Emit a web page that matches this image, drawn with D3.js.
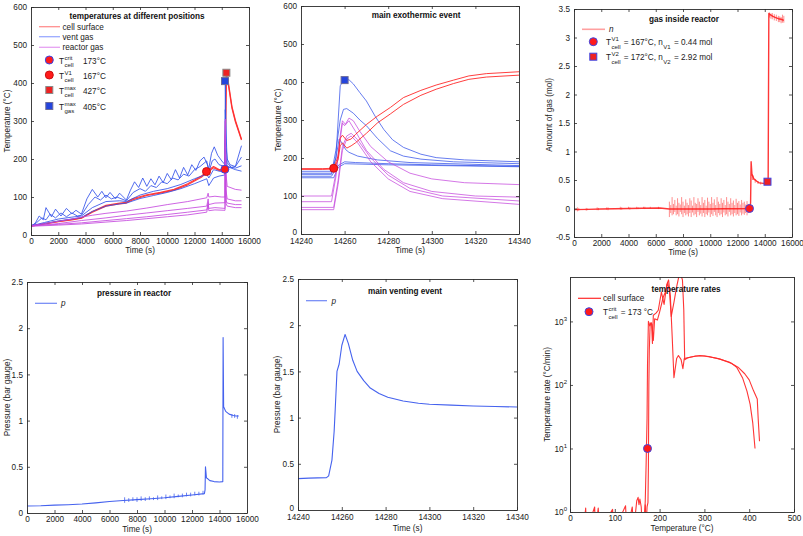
<!DOCTYPE html>
<html><head><meta charset="utf-8">
<script src="https://cdn.jsdelivr.net/npm/d3@7"></script>
<style>
body{margin:0;background:#fff}
svg{font-family:"Liberation Sans",Arial,Helvetica,sans-serif}
svg text{white-space:pre}
</style>
</head><body>
<svg id="c" width="803" height="536"></svg>
<script>
// ---------------- DATA ----------------
const timeTicks = [0,2000,4000,6000,8000,10000,12000,14000,16000];
const zoomTicks = [14240,14260,14280,14300,14320,14340];
const tempTicks = [0,100,200,300,400,500,600];
const gasTicks = [-0.5,0,0.5,1,1.5,2,2.5,3,3.5];
const presTicks = [0,0.5,1,1.5,2,2.5];
const rateXTicks = [0,100,200,300,400,500];
const rateYTicks = [1,10,100,1000];

// Panel 1: temperatures at different positions (time s, temperature °C)
const cellSurface1 = [[0,24],[1000,30],[2000,36],[3000,41],[3700,45],[4500,62],[5500,78],[6500,84],[7000,86],[7500,96],[8500,106],[9500,112],[10500,120],[11500,135],[12000,145],[12500,155],[12900,167],[13400,180],[13800,172],[14240,172],[14260,250],[14340,427],[14500,398],[14750,338],[15000,302],[15450,252]];
const cellSurface2 = [[0,23],[1000,29],[2000,35],[3000,40],[3700,44],[4500,60],[5500,76],[6500,82],[7000,84],[7500,93],[8500,104],[9500,110],[10500,118],[11500,132],[12000,142],[12500,152],[12900,164],[13400,177],[13800,170],[14240,170],[14260,240],[14340,418],[14500,392],[14750,333],[15000,298],[15450,250]];
const ventGas1 = [[0,24],[300,30],[600,50],[900,40],[1100,72],[1500,48],[1800,68],[2200,50],[2600,70],[3000,56],[3300,65],[3700,55],[4100,95],[4500,120],[4900,100],[5200,115],[5500,98],[5800,112],[6200,95],[6500,110],[7000,92],[7300,118],[7600,140],[7900,125],[8200,150],[8500,128],[8800,148],[9100,132],[9400,155],[9700,138],[10000,162],[10300,145],[10600,172],[10900,150],[11200,178],[11500,158],[11800,185],[12100,170],[12400,195],[12700,205],[12950,185],[13050,175],[13250,215],[13450,232],[13700,210],[14000,195],[14240,185],[14262,405],[14320,230],[14400,200],[14600,185],[15000,180],[15200,205],[15450,235]];
const ventGas2 = [[0,24],[400,32],[800,45],[1100,40],[1400,55],[1800,45],[2200,58],[2600,48],[3000,58],[3400,50],[3700,52],[4200,80],[4700,100],[5100,92],[5500,105],[5900,95],[6300,100],[7000,90],[7500,112],[8000,122],[8400,115],[8800,130],[9200,125],[9600,140],[10000,135],[10400,150],[10800,145],[11200,160],[11600,155],[12000,172],[12400,180],[12900,195],[13050,165],[13300,195],[13500,200],[13800,185],[14240,180],[14260,330],[14400,190],[14700,178],[15000,180],[15450,205]];
const ventGas3 = [[0,24],[1000,33],[2000,42],[3000,47],[3700,50],[4500,72],[5500,88],[6500,90],[7000,88],[8000,105],[9000,115],[10000,122],[11000,133],[12000,148],[12900,160],[13050,150],[13400,172],[13800,168],[14240,165],[14257,250],[14262,215],[14400,180],[15000,176],[15450,182]];
const ventGas4 = [[0,24],[1000,30],[2000,37],[3000,42],[3700,46],[4500,62],[5500,76],[6500,82],[7000,84],[8000,96],[9000,104],[10000,112],[11000,122],[12000,135],[12900,148],[13050,130],[13400,150],[13800,155],[14240,158],[14260,190],[14400,180],[15000,172],[15450,168]];
const reactorGas1 = [[0,25],[1000,30],[2000,36],[3000,42],[3700,47],[4500,52],[5500,57],[7000,63],[8500,71],[10000,80],[11500,88],[12900,98],[13000,110],[13050,100],[13500,102],[14000,100],[14240,100],[14262,305],[14300,165],[14400,128],[15000,120],[15450,118]];
const reactorGas2 = [[0,24],[2000,30],[3700,38],[5500,45],[7000,52],[8500,58],[10000,64],[11500,70],[12900,76],[13000,95],[13050,80],[13500,84],[14240,85],[14261,300],[14300,120],[14400,95],[15000,90],[15450,90]];
const reactorGas3 = [[0,24],[2000,28],[3700,32],[5500,38],[7000,43],[8500,48],[10000,54],[11500,60],[12900,66],[13000,85],[13050,70],[13500,72],[14240,70],[14262,265],[14320,90],[14400,84],[15000,80],[15450,80]];
const reactorGas4 = [[0,23],[2000,26],[3700,29],[5500,34],[7000,38],[8500,43],[10000,48],[11500,53],[12900,60],[13000,80],[13050,64],[13500,66],[14240,65],[14262,260],[14320,82],[14400,76],[15000,72],[15450,72]];
const p1Markers = [
  {t:14230,v:173,shape:"circle",fill:"#ff1a1a",stroke:"#3c46e6"},
  {t:12880,v:167,shape:"circle",fill:"#ff1a1a",stroke:"#cc1010"},
  {t:14340,v:427,shape:"square",fill:"#ee2222",stroke:"#8a8a8a"},
  {t:14240,v:405,shape:"square",fill:"#2444dd",stroke:"#6a6a9a"}
];
const p1LegendLabels = ["cell surface","vent gas","reactor gas"];
const p1MarkerLabels = [["crit","cell","173°C"],["V1","cell","167°C"],["max","cell","427°C"],["max","gas","405°C"]];

// Panel 2: main exothermic event
const exoCell1 = [[14240,172],[14250,172],[14255,173],[14257,205],[14258,252],[14259,260],[14261,246],[14263,250],[14265,262],[14270,288],[14275,310],[14281,333],[14287,359],[14295,378],[14302,392],[14310,405],[14317,416],[14325,422],[14340,427]];
const exoCell2 = [[14240,170],[14250,170],[14255,171],[14257,195],[14258,232],[14259,240],[14261,226],[14263,232],[14265,240],[14270,265],[14275,292],[14281,316],[14287,341],[14295,365],[14302,381],[14310,396],[14317,407],[14325,413],[14340,418]];
const exoVent1 = [[14240,165],[14254,165],[14256,200],[14258,390],[14259.5,405],[14262,406],[14264,395],[14267,372],[14270,350],[14274,310],[14278,275],[14282,248],[14287,228],[14295,210],[14302,201],[14315,195],[14340,190]];
const exoVent2 = [[14240,160],[14254,160],[14256,220],[14258,300],[14259.5,328],[14261,330],[14264,318],[14267,300],[14270,285],[14275,252],[14281,219],[14287,205],[14295,197],[14310,190],[14340,185]];
const exoVent3 = [[14240,157],[14254,157],[14256,200],[14257.5,250],[14259,238],[14260.5,222],[14262,215],[14266,205],[14275,195],[14290,188],[14340,180]];
const exoVent4 = [[14240,152],[14254,152],[14257,180],[14260,190],[14265,188],[14280,185],[14300,182],[14340,178]];
const exoVent5 = [[14240,148],[14255,148],[14257,175],[14260,185],[14280,182],[14340,177]];
const exoReactor1 = [[14240,100],[14254,100],[14256,160],[14258,250],[14259,292],[14260,285],[14262,305],[14264,298],[14267,270],[14272,230],[14280,190],[14290,160],[14300,145],[14315,135],[14340,130]];
const exoReactor2 = [[14240,85],[14254,85],[14256,150],[14258,260],[14259,298],[14260.5,288],[14262,298],[14265,270],[14270,220],[14278,170],[14287,135],[14300,112],[14320,100],[14340,97]];
const exoReactor3 = [[14240,70],[14255,70],[14257,140],[14259,230],[14261,258],[14263,265],[14266,248],[14272,200],[14280,155],[14290,120],[14305,100],[14340,87]];
const exoReactor4 = [[14240,64],[14255,64],[14257,130],[14259,220],[14261,250],[14263,258],[14266,240],[14272,190],[14280,145],[14290,112],[14305,93],[14340,78]];
const p2Markers = [
  {t:14255,v:173,shape:"circle",fill:"#ff1a1a",stroke:"#cc1010"},
  {t:14260,v:405,shape:"square",fill:"#2444dd",stroke:"#6a6a9a"}
];

// Panel 3: gas inside reactor (time s, mol)
const gasAmount = [[0,-0.02],[1000,-0.015],[2000,-0.01],[3000,-0.005],[4000,0],[5000,0.005],[6300,0.01],[7000,-0.01],[8000,-0.01],[9000,-0.01],[10000,-0.01],[11000,-0.005],[12000,-0.005],[12900,0],[12960,0.1],[13000,0.82],[13060,0.6],[13200,0.52],[13400,0.48],[13600,0.45],[13900,0.44],[14100,0.45],[14200,0.47],[14250,0.5],[14300,3.42],[14400,3.4],[14600,3.37],[14800,3.35],[15000,3.33],[15200,3.32],[15400,3.3]];
const gasNoise = [[250,0.02,-0.05],[350,0.01,-0.04],[900,0.01,-0.04],[1000,0.0,-0.03],[1700,0.02,-0.03],[1800,0.01,-0.03],[2400,0.02,-0.02],[2500,0.02,-0.03],[3400,0.03,-0.02],[3500,0.02,-0.02],[4000,0.03,-0.01],[4100,0.02,-0.02],[4600,0.03,-0.01],[4700,0.02,-0.01],[5100,0.03,0],[5200,0.03,-0.01],[5600,0.03,0],[6200,0.03,-0.01],
  [7000,0.12,-0.15],[7100,0.06,-0.08],[7200,0.2,-0.12],[7300,0.08,-0.1],[7400,0.15,-0.06],[7500,0.05,-0.12],[7600,0.18,-0.1],[7700,0.1,-0.14],[7800,0.07,-0.06],[7900,0.2,-0.1],[8000,0.12,-0.15],[8100,0.05,-0.08],[8200,0.16,-0.12],[8300,0.1,-0.1],[8400,0.06,-0.14],[8500,0.18,-0.08],[8600,0.14,-0.15],[8700,0.05,-0.07],[8800,0.2,-0.12],[8900,0.1,-0.1],[9000,0.08,-0.15],[9100,0.18,-0.06],[9200,0.12,-0.12],[9300,0.06,-0.09],[9400,0.2,-0.14],[9500,0.1,-0.08],[9600,0.15,-0.15],[9700,0.05,-0.1],[9800,0.19,-0.12],[9900,0.12,-0.07],[10000,0.08,-0.15],[10100,0.2,-0.1],[10200,0.1,-0.13],[10300,0.16,-0.06],[10400,0.06,-0.12],[10500,0.2,-0.15],[10600,0.12,-0.08],[10700,0.08,-0.12],[10800,0.18,-0.1],[10900,0.1,-0.15],[11000,0.15,-0.07],[11100,0.06,-0.12],[11200,0.2,-0.1],[11300,0.12,-0.14],[11400,0.08,-0.06],[11500,0.18,-0.12],[11600,0.1,-0.1],[11700,0.14,-0.14],[11800,0.06,-0.08],[11900,0.17,-0.12],[12000,0.1,-0.1],[12100,0.13,-0.13],[12200,0.07,-0.07],[12300,0.15,-0.12],[12400,0.1,-0.09],[12500,0.12,-0.11],[12600,0.07,-0.08],[12700,0.13,-0.12],[12800,0.08,-0.08],
  [13100,0.6,0.5],[13150,0.58,0.5],[13300,0.52,0.45],[13500,0.48,0.43],[13700,0.47,0.42],[14350,3.44,3.35],[14450,3.42,3.33],[14550,3.43,3.32],[14700,3.41,3.3],[14850,3.4,3.29],[15000,3.38,3.27],[15100,3.37,3.27],[15200,3.36,3.25],[15300,3.4,3.26],[15400,3.38,3.26]];
const p3Markers = [
  {t:12880,v:0,shape:"circle",fill:"#ff1a1a",stroke:"#3c46e6"},
  {t:14200,v:0.47,shape:"square",fill:"#ee2222",stroke:"#3c46e6"}
];

// Panel 4: pressure in reactor (time s, bar gauge)
const pressure = [[0,0.075],[1000,0.078],[2000,0.085],[3000,0.09],[4000,0.098],[5000,0.11],[6000,0.125],[7000,0.135],[8000,0.145],[9000,0.155],[10000,0.165],[11000,0.18],[12000,0.195],[12900,0.21],[12950,0.25],[12980,0.5],[13050,0.38],[13150,0.37],[13300,0.35],[13600,0.34],[14000,0.335],[14240,0.34],[14262,1.9],[14300,1.15],[14450,1.1],[14700,1.07],[15000,1.055],[15200,1.05],[15400,1.05]];
const pressureNoise = [[7100,0.17,0.11],[7400,0.16,0.12],[7700,0.17,0.13],[8000,0.17,0.12],[8300,0.18,0.13],[8600,0.17,0.13],[8900,0.18,0.14],[9200,0.17,0.14],[9500,0.19,0.14],[9800,0.18,0.15],[10100,0.2,0.15],[10400,0.19,0.16],[10700,0.21,0.16],[11000,0.2,0.17],[11300,0.21,0.17],[11600,0.22,0.18],[11900,0.22,0.18],[12200,0.23,0.19],[12500,0.23,0.19],[12800,0.24,0.2],[14900,1.07,1.03],[15100,1.07,1.03],[15300,1.06,1.02]];

// Panel 5: main venting event
const ventPressure = [[14240,0.34],[14245,0.345],[14253,0.35],[14254,0.37],[14255.5,0.54],[14256.5,0.85],[14257,1.09],[14257.8,1.5],[14258.8,1.58],[14260,1.78],[14261.5,1.9],[14263,1.8],[14265,1.62],[14267,1.5],[14270,1.4],[14273,1.32],[14277,1.26],[14281,1.22],[14288,1.18],[14295,1.155],[14300,1.145],[14310,1.135],[14320,1.125],[14330,1.12],[14340,1.115]];

// Panel 6: temperature rates (°C, °C/min)
const rateCell1 = [[30,0.5],[35,1.15],[37,0.5],[55,1.2],[57,0.5],[63,1.15],[67,0.5],[95,1.1],[98,0.5],[124,1.25],[127,0.5],[139,1.2],[142,0.5],[149,1.5],[152,1.7],[154,1.3],[156,1.6],[159,1.2],[161,0.6],[165,0.5],[168,1.5],[170,6],[172,30],[173,200],[175,1000],[178,850],[182,950],[184,450],[186,1250],[192,1350],[197,1500],[204,2900],[210,1850],[216,3800],[220,4500],[224,2500],[228,600],[232,130],[238,260],[242,290],[248,250],[252,180],[255,260],[270,275],[290,290],[310,280],[335,255],[360,220],[372,190],[385,130],[395,80],[402,50],[408,25],[413,10]];
const rateCell2 = [[165,0.5],[168,1.3],[170,0.6],[172,1.2],[174,1.4],[175,5],[176,100],[177,350],[179,950],[183,900],[186,500],[189,1100],[195,1050],[200,1400],[208,2400],[213,2900],[218,4000],[222,3000],[226,1200],[232,2000],[238,3500],[243,5100],[247,5500],[251,4500],[254,1500],[255,600],[256,250],[262,265],[280,285],[300,285],[330,260],[355,230],[375,190],[390,150],[400,120],[410,80],[418,60],[420,30],[423,13]];
const p6Markers = [{t:173,v:10,shape:"circle",fill:"#ff1a1a",stroke:"#3c46e6"}];

// ---------------- DRAWING ----------------
const FS = 8.2;
const svg = d3.select('#c');
const defs = svg.append('defs');
let nClip = 0;
const fmt = d => String(d);

function panel(o) {
  const x = d3.scaleLinear().domain(o.xd).range([o.l, o.r]);
  const y = (o.log ? d3.scaleLog() : d3.scaleLinear()).domain(o.yd).range([o.b, o.t]);
  const g = svg.append('g');
  const id = 'clip' + (nClip++);
  defs.append('clipPath').attr('id', id).append('rect')
    .attr('x', o.l).attr('y', o.t).attr('width', o.r - o.l).attr('height', o.b - o.t);
  const plot = g.append('g').attr('clip-path', `url(#${id})`);
  const ax = g.append('g');
  ax.append('g').attr('transform', `translate(0,${o.b})`)
    .call(d3.axisBottom(x).tickValues(o.xt).tickSizeInner(-3).tickSizeOuter(0).tickPadding(o.xpad ?? 3).tickFormat(fmt));
  ax.append('g').attr('transform', `translate(0,${o.t})`)
    .call(d3.axisTop(x).tickValues(o.xt).tickSizeInner(-3).tickSizeOuter(0).tickFormat(''));
  const left = ax.append('g').attr('transform', `translate(${o.l},0)`)
    .call(d3.axisLeft(y).tickValues(o.yt).tickSizeInner(-3).tickSizeOuter(0).tickPadding(4).tickFormat(o.log ? () => '' : fmt));
  ax.append('g').attr('transform', `translate(${o.r},0)`)
    .call(d3.axisRight(y).tickValues(o.yt).tickSizeInner(-3).tickSizeOuter(0).tickFormat(''));
  if (o.log) {
    left.selectAll('.tick').each(function(d) {
      const t = d3.select(this).append('text').attr('x', -3).attr('dy', '0.32em')
        .attr('text-anchor', 'end');
      t.append('tspan').text('10');
      t.append('tspan').attr('class', 'sup').attr('dy', '-4').text(String(Math.round(Math.log10(d))));
    });
  }
  if (o.lowZeroUp) {
    left.selectAll('.tick').filter(d => d === o.yd[0]).select('text').attr('dy', '0.1em');
  }
  ax.selectAll('text').attr('font-size', FS).attr('fill', '#1a1a1a').attr('font-family', null);
  ax.selectAll('tspan.sup').attr('font-size', 6);
  ax.selectAll('path.domain').attr('stroke', '#2a2a2a').attr('stroke-width', 0.9);
  ax.selectAll('line').attr('stroke', '#2a2a2a').attr('stroke-width', 0.8);
  g.append('text').attr('x', (o.l + o.r) / 2).attr('y', o.xlY).attr('text-anchor', 'middle')
    .attr('font-size', FS).attr('fill', '#1a1a1a').text(o.xlabel);
  g.append('text').attr('transform', `translate(${o.ylX},${o.ylC ?? (o.t + o.b) / 2}) rotate(-90)`)
    .attr('text-anchor', 'middle').attr('font-size', FS).attr('fill', '#1a1a1a').text(o.ylabel);
  const top = g.append('g');
  top.append('text').attr('x', o.titleX).attr('y', o.titleY).attr('text-anchor', 'middle')
    .attr('font-size', FS).attr('font-weight', 'bold').attr('fill', '#111').text(o.title);
  return {x, y, plot, top};
}

function drawLine(p, data, color, w, op) {
  p.plot.append('path').datum(data)
    .attr('d', d3.line().x(d => p.x(d[0])).y(d => p.y(d[1])))
    .attr('fill', 'none').attr('stroke', color).attr('stroke-width', w || 1)
    .attr('stroke-opacity', op ?? 1).attr('stroke-linejoin', 'round');
}
function drawNoise(p, data, color, w) {
  p.plot.selectAll(null).data(data).enter().append('line')
    .attr('x1', d => p.x(d[0])).attr('x2', d => p.x(d[0]))
    .attr('y1', d => p.y(d[1])).attr('y2', d => p.y(d[2]))
    .attr('stroke', color).attr('stroke-width', w || 1);
}
function marker(g, cx, cy, m) {
  if (m.shape === 'circle') {
    g.append('circle').attr('cx', cx).attr('cy', cy).attr('r', 4)
      .attr('fill', m.fill).attr('stroke', m.stroke).attr('stroke-width', 1);
  } else {
    g.append('rect').attr('x', cx - 3.5).attr('y', cy - 3.5).attr('width', 7).attr('height', 7)
      .attr('fill', m.fill).attr('stroke', m.stroke).attr('stroke-width', 1);
  }
}
function drawMarkers(p, list) {
  list.forEach(m => marker(p.top, p.x(m.t), p.y(m.v), m));
}
function rich(g, x, y, parts) {
  let cx = x;
  parts.forEach(pt => {
    if (pt.t !== undefined) {
      const e = g.append('text').attr('x', cx).attr('y', y).attr('font-size', FS).attr('fill', '#1a1a1a')
        .attr('font-style', pt.i ? 'italic' : null).text(pt.t);
      cx += e.node().getComputedTextLength();
    } else {
      let w = 0;
      if (pt.sup) { const e = g.append('text').attr('x', cx + 0.5).attr('y', y - 4).attr('font-size', 6).attr('fill', '#1a1a1a').text(pt.sup); w = Math.max(w, e.node().getComputedTextLength()); }
      if (pt.sub) { const e = g.append('text').attr('x', cx + 0.5).attr('y', y + 3.5).attr('font-size', 6).attr('fill', '#1a1a1a').text(pt.sub); w = Math.max(w, e.node().getComputedTextLength()); }
      cx += w + 1.5;
    }
  });
  return cx;
}
function legendLine(g, x1, x2, y, color, w) {
  g.append('line').attr('x1', x1).attr('x2', x2).attr('y1', y).attr('y2', y)
    .attr('stroke', color).attr('stroke-width', w || 1.2);
}

const RED = '#ff2a2a', BLUE = '#3452ea', MAG = '#c64ade', PBLUE = '#4562ee';

// ---- Panel 1
const p1 = panel({l:31, r:249, t:7, b:235, xd:[0,16000], yd:[0,600], xt:timeTicks, yt:tempTicks,
  xlabel:'Time (s)', xlY:253, ylabel:'Temperature (°C)', ylX:10, title:'temperatures at different positions', titleX:137, titleY:19});
[cellSurface1, cellSurface2].forEach(d => drawLine(p1, d, RED, 1.2, 0.9));
[ventGas1, ventGas2, ventGas3, ventGas4].forEach(d => drawLine(p1, d, BLUE, 1, 0.85));
[reactorGas1, reactorGas2, reactorGas3, reactorGas4].forEach(d => drawLine(p1, d, MAG, 1, 0.85));
drawMarkers(p1, p1Markers);
{
  const g = p1.top;
  const cols = ['#ff9090', '#9aaaff', '#e6a2f2'];
  p1LegendLabels.forEach((s, i) => {
    const yy = [26.7, 36.7, 47.3][i];
    legendLine(g, 39, 60, yy, cols[i], 1.3);
    g.append('text').attr('x', 62.5).attr('y', yy + 3).attr('font-size', FS).attr('fill', '#1a1a1a').text(s);
  });
  p1MarkerLabels.forEach((lab, i) => {
    const yy = [60, 75, 90, 106][i];
    marker(g, 49.3, yy, p1Markers[i]);
    rich(g, 59, yy + 3.5, [{t:'T'}, {sup:lab[0], sub:lab[1]}]);
    g.append('text').attr('x', 83).attr('y', yy + 3.5).attr('font-size', FS).attr('fill', '#1a1a1a').text(lab[2]);
  });
}

// ---- Panel 2
const p2 = panel({l:301, r:519, t:6, b:234, xd:[14240,14340], yd:[0,600], xt:zoomTicks, yt:tempTicks, xpad:4, lowZeroUp:true,
  xlabel:'Time (s)', xlY:253, ylabel:'Temperature (°C)', ylX:281, title:'main exothermic event', titleX:416, titleY:18});
[exoVent1, exoVent2, exoVent3, exoVent4, exoVent5].forEach(d => drawLine(p2, d, BLUE, 1, 0.75));
[exoReactor1, exoReactor2, exoReactor3, exoReactor4].forEach(d => drawLine(p2, d, MAG, 1, 0.75));
[exoCell1, exoCell2].forEach(d => drawLine(p2, d, RED, 1, 0.9));
drawMarkers(p2, p2Markers);

// ---- Panel 3
const p3 = panel({l:574, r:792, t:9, b:237, xd:[0,16000], yd:[-0.5,3.5], xt:timeTicks, yt:gasTicks,
  xlabel:'Time (s)', xlY:255, ylabel:'Amount of gas (mol)', ylX:552, ylC:115, title:'gas inside reactor', titleX:684, titleY:22});
drawNoise(p3, gasNoise, '#ff7070', 0.8);
drawLine(p3, gasAmount, '#ff2020', 1.4, 0.9);
drawMarkers(p3, p3Markers);
{
  const g = p3.top;
  legendLine(g, 582, 605, 29.3, '#ffa0a0', 1.6);
  g.append('text').attr('x', 609).attr('y', 32.3).attr('font-size', FS).attr('font-style', 'italic').attr('fill', '#1a1a1a').text('n');
  marker(g, 593.3, 41.7, p3Markers[0]);
  rich(g, 606, 45, [{t:'T'}, {sup:'V1', sub:'cell'}, {t:' = 167°C, n'}, {sub:'V1'}, {t:' = 0.44 mol'}]);
  marker(g, 593.3, 56.7, p3Markers[1]);
  rich(g, 606, 60, [{t:'T'}, {sup:'V2', sub:'cell'}, {t:' = 172°C, n'}, {sub:'V2'}, {t:' = 2.92 mol'}]);
}

// ---- Panel 4
const p4 = panel({l:27, r:247, t:282, b:513, xd:[0,16000], yd:[0,2.5], xt:timeTicks, yt:presTicks,
  xlabel:'Time (s)', xlY:531.5, ylabel:'Pressure (bar gauge)', ylX:9.5, title:'pressure in reactor', titleX:134, titleY:296});
drawNoise(p4, pressureNoise, PBLUE, 0.8);
drawLine(p4, pressure, PBLUE, 1.1);
{
  const g = p4.top;
  legendLine(g, 35, 57, 303.3, '#6f86f5', 1.2);
  g.append('text').attr('x', 61).attr('y', 306.3).attr('font-size', FS).attr('font-style', 'italic').attr('fill', '#1a1a1a').text('p');
}

// ---- Panel 5
const p5 = panel({l:298, r:517, t:279, b:510, xd:[14240,14340], yd:[0,2.5], xt:zoomTicks, yt:presTicks, xpad:4, lowZeroUp:true,
  xlabel:'Time (s)', xlY:531, ylabel:'Pressure (bar gauge)', ylX:280, title:'main venting event', titleX:405, titleY:294});
drawLine(p5, ventPressure, PBLUE, 1.1);
{
  const g = p5.top;
  legendLine(g, 306, 327, 300.7, '#6f86f5', 1.2);
  g.append('text').attr('x', 331.5).attr('y', 303.7).attr('font-size', FS).attr('font-style', 'italic').attr('fill', '#1a1a1a').text('p');
}

// ---- Panel 6
const p6 = panel({l:570, r:794, t:277, b:512, xd:[0,500], yd:[1,5000], log:true, xt:rateXTicks, yt:rateYTicks,
  xlabel:'Temperature (°C)', xlY:531, ylabel:'Temperature rate (°C/min)', ylX:550, title:'temperature rates', titleX:686, titleY:292});
[rateCell1, rateCell2].forEach(d => drawLine(p6, d, RED, 1.1, 0.95));
drawMarkers(p6, p6Markers);
{
  const g = p6.top;
  legendLine(g, 578, 601, 298.3, RED, 1.2);
  g.append('text').attr('x', 603).attr('y', 301.3).attr('font-size', FS).attr('fill', '#1a1a1a').text('cell surface');
  marker(g, 589, 311.7, p6Markers[0]);
  rich(g, 603, 315, [{t:'T'}, {sup:'crit', sub:'cell'}, {t:' = 173 °C'}]);
}
</script>
</body></html>
